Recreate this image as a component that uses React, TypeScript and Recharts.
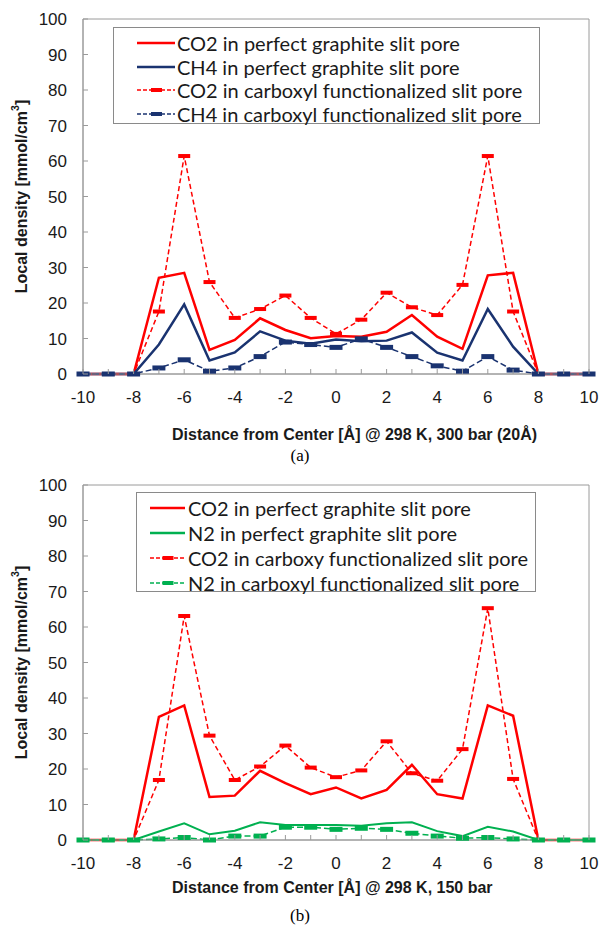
import React from 'react';
import { LineChart, Line, XAxis, YAxis, ReferenceArea, Legend } from 'recharts';

const xValues = [-10, -9, -8, -7, -6, -5, -4, -3, -2, -1, 0, 1, 2, 3, 4, 5, 6, 7, 8, 9, 10];
const yTicks = [0, 10, 20, 30, 40, 50, 60, 70, 80, 90, 100];

// Panel (a)
const co2PerfectA = [0, 0, 0, 27.1, 28.5, 6.8, 9.6, 15.7, 12.4, 10.1, 10.7, 10.5, 11.9, 16.6, 10.5, 7.1, 27.8, 28.5, 0, 0, 0];
const ch4PerfectA = [0, 0, 0, 8.3, 19.6, 3.8, 6.1, 12.0, 9.4, 8.5, 9.7, 9.2, 9.4, 11.7, 6.0, 3.8, 18.3, 7.7, 0, 0, 0];
const co2CarbA = [0, 0, 0, 17.6, 61.4, 25.9, 15.8, 18.3, 22.1, 15.8, 11.3, 15.3, 22.9, 18.8, 16.6, 25.1, 61.4, 17.6, 0, 0, 0];
const ch4CarbA = [0, 0, 0, 1.7, 4.0, 0.8, 1.7, 4.9, 9.0, 8.3, 7.5, 9.9, 7.5, 4.9, 2.3, 0.8, 4.9, 1.1, 0, 0, 0];
const namesA = [
  'CO2 in perfect graphite slit pore',
  'CH4 in perfect graphite slit pore',
  'CO2 in carboxyl functionalized slit pore',
  'CH4 in carboxyl functionalized slit pore',
];

// Panel (b)
const co2PerfectB = [0, 0, 0, 34.7, 37.9, 12.1, 12.5, 19.5, 16.0, 12.9, 14.8, 11.7, 14.1, 21.2, 12.9, 11.7, 37.9, 35.0, 0, 0, 0];
const n2PerfectB = [0, 0, 0, 2.4, 4.7, 1.6, 2.6, 5.0, 4.2, 4.2, 4.2, 4.0, 4.7, 5.0, 2.5, 1.1, 3.7, 2.4, 0, 0, 0];
const co2CarbB = [0, 0, 0, 16.9, 63.1, 29.4, 16.9, 20.7, 26.6, 20.4, 17.7, 19.6, 27.8, 18.8, 16.7, 25.6, 65.3, 17.2, 0, 0, 0];
const n2CarbB = [0, 0, 0, 0.3, 0.7, 0, 1.1, 1.1, 3.6, 3.6, 3.0, 3.3, 3.0, 1.9, 1.1, 0.5, 0.7, 0.3, 0, 0, 0];
const namesB = [
  'CO2 in perfect graphite slit pore',
  'N2 in perfect graphite slit pore',
  'CO2 in carboxy functionalized slit pore',
  'N2 in carboxyl functionalized slit pore',
];

const RED = '#ff0000';
const NAVY = '#1a3370';
const GREEN = '#00b050';
const AXIS = '#9a9a9a';
const TEXT = '#1a1a1a';
const ARIAL = "'Liberation Sans', Arial, sans-serif";
const X_MARGIN = 10;
const Y_MARGIN = 16;

const build = (a: number[], b: number[], c: number[], d: number[]) =>
  xValues.map((x, i) => ({ x, s1: a[i], s2: b[i], s3: c[i], s4: d[i] }));

const dataA = build(co2PerfectA, ch4PerfectA, co2CarbA, ch4CarbA);
const dataB = build(co2PerfectB, n2PerfectB, co2CarbB, n2CarbB);

const XTick = (props: any) => {
  const { x, y, payload } = props;
  const axisY = y - X_MARGIN;
  const v = payload.value;
  return (
    <g>
      <line x1={x} x2={x} y1={axisY} y2={axisY - 5} stroke={AXIS} strokeWidth={1} />
      {v % 2 === 0 && (
        <text x={x} y={axisY + 29} textAnchor="middle" fill={TEXT} style={{ fontFamily: ARIAL, fontSize: 17 }}>
          {String(v)}
        </text>
      )}
    </g>
  );
};

const YTick = (props: any) => {
  const { x, y, payload } = props;
  const axisX = x + Y_MARGIN;
  return (
    <g>
      <line x1={axisX} x2={axisX + 5} y1={y} y2={y} stroke={AXIS} strokeWidth={1} />
      <text x={x} y={y} dy="0.36em" textAnchor="end" fill={TEXT} style={{ fontFamily: ARIAL, fontSize: 17 }}>
        {String(payload.value)}
      </text>
    </g>
  );
};

const makeDash = (color: string, w: number, h: number) => (props: any) => {
  const { cx, cy, index } = props;
  if (cx == null || cy == null) return <g key={index} />;
  return <rect key={index} x={cx - w / 2} y={cy - h / 2} width={w} height={h} fill={color} />;
};

type LegendCfg = {
  left: number;
  top: number;
  width: number;
  height: number;
  padLeft: number;
  padTop: number;
  rowH: number;
  sampleW: number;
  gap: number;
};

const makeLegend = (names: string[], colors: string[], cfg: LegendCfg) => () => (
  <div
    style={{
      width: cfg.width,
      height: cfg.height,
      boxSizing: 'border-box',
      border: '1px solid #8a8a8a',
      background: '#fff',
      paddingLeft: cfg.padLeft,
      paddingTop: cfg.padTop,
    }}
  >
    {names.map((n, i) => (
      <div key={n} style={{ display: 'flex', alignItems: 'center', height: cfg.rowH }}>
        <svg width={cfg.sampleW} height={10} style={{ display: 'block', flex: 'none' }}>
          {i < 2 ? (
            <line x1={0} x2={cfg.sampleW} y1={5} y2={5} stroke={colors[i]} strokeWidth={2.5} />
          ) : (
            <g>
              <line x1={0} x2={cfg.sampleW} y1={5} y2={5} stroke={colors[i]} strokeWidth={1.5} strokeDasharray="4 2" />
              <rect x={cfg.sampleW / 2 - 5} y={3} width={11} height={4} fill={colors[i]} />
            </g>
          )}
        </svg>
        <span
          style={{
            marginLeft: cfg.gap,
            fontFamily: 'Lato, "Open Sans", sans-serif',
            fontSize: 20,
            color: TEXT,
            whiteSpace: 'nowrap',
            lineHeight: 1,
          }}
        >
          {n}
        </span>
      </div>
    ))}
  </div>
);

type PanelProps = {
  data: any[];
  names: string[];
  c2: string;
  title: string;
  caption: string;
  titleDy: number;
  captionDy: number;
  legend: LegendCfg;
  s2Width: number;
};

const Panel = ({ data, names, c2, title, caption, titleDy, captionDy, legend, s2Width }: PanelProps) => {
  const colors = [RED, c2, RED, c2];
  return (
    <LineChart width={601} height={465} data={data} margin={{ top: 19, right: 12, bottom: 31, left: 0 }}>
      <ReferenceArea x1={-10} x2={10} y1={0} y2={100} fill="none" stroke={AXIS} strokeWidth={1} ifOverflow="visible" />
      <XAxis
        type="number"
        dataKey="x"
        domain={[-10, 10]}
        ticks={xValues}
        interval={0}
        allowDecimals={false}
        height={60}
        tickSize={0}
        tickMargin={X_MARGIN}
        tick={<XTick />}
        axisLine={{ stroke: AXIS }}
        label={{
          content: (p: any) => {
            const vb = p.viewBox || {};
            return (
              <g>
                <text x={172} y={vb.y + titleDy} fill={TEXT} style={{ fontFamily: ARIAL, fontSize: 16, fontWeight: 'bold' }}>
                  {title}
                </text>
                <text
                  x={300}
                  y={vb.y + captionDy}
                  textAnchor="middle"
                  fill="#000"
                  style={{ fontFamily: "'Liberation Serif', 'Times New Roman', serif", fontSize: 17 }}
                >
                  {caption}
                </text>
              </g>
            );
          },
        }}
      />
      <YAxis
        type="number"
        domain={[0, 100]}
        ticks={yTicks}
        interval={0}
        width={83}
        tickSize={0}
        tickMargin={Y_MARGIN}
        tick={<YTick />}
        axisLine={{ stroke: AXIS }}
        label={{
          content: (p: any) => {
            const vb = p.viewBox || {};
            const cy = vb.y + vb.height / 2;
            return (
              <text
                x={21}
                y={cy}
                transform={`rotate(-90, 21, ${cy})`}
                textAnchor="middle"
                dominantBaseline="central"
                fill={TEXT}
                style={{ fontFamily: ARIAL, fontSize: 16, fontWeight: 'bold' }}
              >
                Local density [mmol/cm<tspan dy={-6} style={{ fontSize: 10.5 }}>3</tspan>
                <tspan dy={6}>]</tspan>
              </text>
            );
          },
        }}
      />
      <Legend
        layout="horizontal"
        verticalAlign="middle"
        align="center"
        wrapperStyle={{ position: 'absolute', left: legend.left, top: legend.top, width: legend.width, height: legend.height }}
        content={makeLegend(names, colors, legend)}
      />
      <Line dataKey="s1" stroke={RED} strokeWidth={2.5} dot={false} isAnimationActive={false} />
      <Line dataKey="s2" stroke={c2} strokeWidth={s2Width} dot={false} isAnimationActive={false} />
      <Line
        dataKey="s3"
        stroke={RED}
        strokeWidth={1.5}
        strokeDasharray="5 3"
        dot={makeDash(RED, 12, 4)}
        isAnimationActive={false}
      />
      <Line
        dataKey="s4"
        stroke={c2}
        strokeWidth={1.5}
        strokeDasharray="6 3"
        dot={makeDash(c2, 13, 5)}
        isAnimationActive={false}
      />
    </LineChart>
  );
};

export default function App() {
  return (
    <div style={{ position: 'absolute', left: 0, top: 0, width: 601, height: 931, background: '#fff' }}>
      <div style={{ position: 'absolute', left: 0, top: 0 }}>
        <Panel
          data={dataA}
          names={namesA}
          c2={NAVY}
          s2Width={2.5}
          title="Distance from Center [Å]  @ 298 K, 300 bar (20Å)"
          caption="(a)"
          titleDy={66}
          captionDy={87}
          legend={{ left: 113, top: 27, width: 427, height: 97, padLeft: 23, padTop: 3, rowH: 23.7, sampleW: 38, gap: 2 }}
        />
      </div>
      <div style={{ position: 'absolute', left: 0, top: 466 }}>
        <Panel
          data={dataB}
          names={namesB}
          c2={GREEN}
          s2Width={2}
          title="Distance from Center [Å]  @ 298 K, 150 bar"
          caption="(b)"
          titleDy={53}
          captionDy={81}
          legend={{ left: 136, top: 26, width: 400, height: 100, padLeft: 13, padTop: 3, rowH: 24.8, sampleW: 35, gap: 3 }}
        />
      </div>
    </div>
  );
}
